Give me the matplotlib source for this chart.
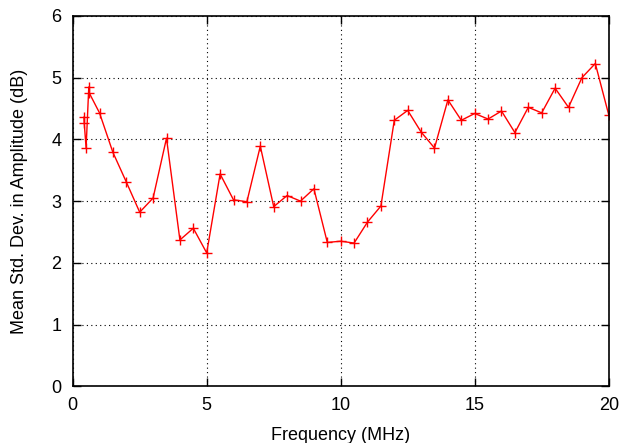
import matplotlib
matplotlib.use("Agg")
import matplotlib.pyplot as plt

freq = [0.42, 0.43, 0.5, 0.6, 0.62, 1.0, 1.5, 2.0, 2.5, 3.0, 3.5, 4.0, 4.5, 5.0,
        5.5, 6.0, 6.5, 7.0, 7.5, 8.0, 8.5, 9.0, 9.5, 10.0, 10.5, 11.0, 11.5,
        12.0, 12.5, 13.0, 13.5, 14.0, 14.5, 15.0, 15.5, 16.0, 16.5, 17.0, 17.5,
        18.0, 18.5, 19.0, 19.5, 20.0]
std_dev = [4.36, 4.27, 3.86, 4.85, 4.75, 4.43, 3.79, 3.31, 2.82, 3.05, 4.02, 2.37,
           2.56, 2.16, 3.44, 3.02, 2.99, 3.89, 2.91, 3.09, 3.00, 3.20, 2.33, 2.35,
           2.32, 2.66, 2.92, 4.31, 4.47, 4.12, 3.86, 4.64, 4.31, 4.42, 4.33, 4.46,
           4.11, 4.52, 4.43, 4.83, 4.52, 5.00, 5.23, 4.40]
xticks = [0, 5, 10, 15, 20]
yticks = [0, 1, 2, 3, 4, 5, 6]

plt.rcParams['font.family'] = ['Liberation Sans', 'DejaVu Sans']
fig = plt.figure(figsize=(6.21, 4.43), dpi=100)
ax = fig.add_axes([72.7/621, 1-386.2/443, (608.7-72.7)/621, (386.2-16)/443])
ax.plot(freq, std_dev, color='#ff0000', lw=1.0, marker='+', ms=7, mew=1.0)
ax.set_xlim(0, 20)
ax.set_ylim(0, 6)
ax.set_xticks(xticks)
ax.set_yticks(yticks)
ax.grid(True, color='black', linestyle=(0, (1, 3)), linewidth=0.8)
ax.tick_params(direction='in', top=True, right=True, length=6, width=1,
               labelsize=13, pad=8)
for s in ax.spines.values():
    s.set_linewidth(1.2)
ax.set_xlabel('Frequency (MHz)', fontsize=13, labelpad=9)
ax.set_ylabel('Mean Std. Dev. in Amplitude (dB)', fontsize=13, labelpad=17)
fig.savefig('out.png', dpi=100)
